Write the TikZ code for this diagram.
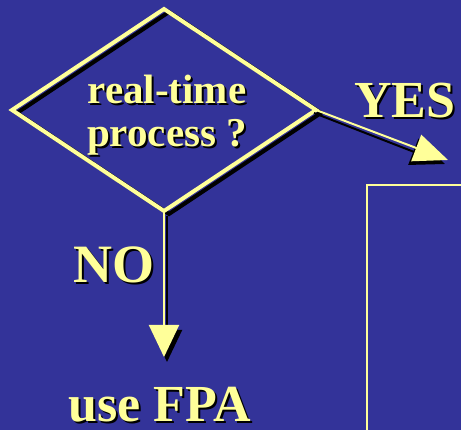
\documentclass[tikz,border=0pt]{standalone}
\usepackage{fontspec}
\setmainfont{Liberation Serif}
\usetikzlibrary{arrows.meta}
\definecolor{bgblue}{RGB}{51,51,153}
\definecolor{ylw}{RGB}{255,255,153}
\tikzset{
  lbl/.style={font=\bfseries\fontsize{#1}{#1}\selectfont, text=ylw, inner sep=0pt},
  lblshadow/.style={font=\bfseries\fontsize{#1}{#1}\selectfont, text=black, inner sep=0pt},
  yline/.style={draw=ylw, line width=2pt},
  sline/.style={draw=black, line width=2pt},
}
\begin{document}
\begin{tikzpicture}[x=1pt,y=-1pt]
\fill[bgblue] (0,0) rectangle (461,430);
\useasboundingbox (0,0) rectangle (461,430);
\clip (0,0) rectangle (461,430);
% diamond vertices
\coordinate (dT) at (164,9);
\coordinate (dL) at (12,110);
\coordinate (dR) at (316,110);
\coordinate (dB) at (164,211);
% shadow of diamond
\draw[black, line width=4pt, line join=miter] ([shift={(5,3)}]dT) -- ([shift={(5,3)}]dR) -- ([shift={(5,3)}]dB) -- ([shift={(5,3)}]dL) -- cycle;
\draw[ylw, line width=4pt, line join=miter] (dT) -- (dR) -- (dB) -- (dL) -- cycle;
% diamond text
\node[lblshadow=41, align=center] at (169,117) {real-time\\[2pt]process ?};
\node[lbl=41, align=center] (q) at (167,115) {real-time\\[2pt]process ?};
% YES arrow
\coordinate (yesTip) at (448,160);
\coordinate (noTip) at (164,357);
\draw[sline, -{Triangle[length=34pt,width=28pt]}] ([shift={(-2,3)}]dR) -- ([shift={(-3,4)}]yesTip);
\draw[yline, -{Triangle[length=34pt,width=28pt]}] (dR) -- (yesTip);
% NO arrow
\draw[sline, -{Triangle[length=32pt,width=30pt]}] ([shift={(3,5)}]dB) -- ([shift={(3,5)}]noTip);
\draw[yline, -{Triangle[length=32pt,width=30pt]}] (dB) -- (noTip);
% labels
\node[lblshadow=52, anchor=base] at (407,120) {YES};
\node[lbl=52, anchor=base] (yes) at (405,118) {YES};
\node[lblshadow=54, anchor=base] at (116,285) {NO};
\node[lbl=54, anchor=base] (no) at (114,283) {NO};
\node[lblshadow=52, anchor=base] at (162,424) {use FPA};
\node[lbl=52, anchor=base] (fpa) at (160,422) {use FPA};
% box
\coordinate (boxTL) at (367,185);
\draw[ylw, line width=2pt] (480,185) -- (boxTL) -- (367,450);
\end{tikzpicture}
\end{document}
